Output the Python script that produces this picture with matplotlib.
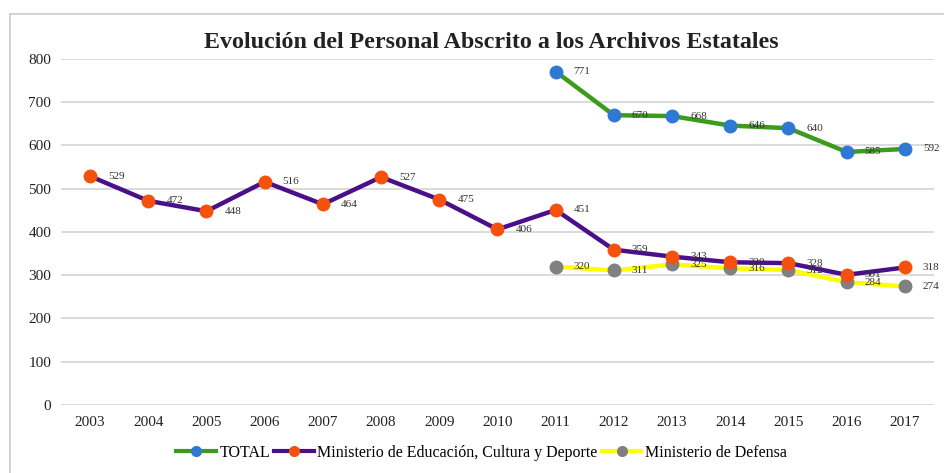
import numpy as np
import matplotlib.pyplot as plt
from matplotlib.lines import Line2D

years = ['2003', '2004', '2005', '2006', '2007', '2008', '2009', '2010',
         '2011', '2012', '2013', '2014', '2015', '2016', '2017']
educacion = [529, 472, 448, 516, 464, 527, 475, 406, 451, 359, 343, 330, 328, 301, 318]
defensa_years = years[8:]
defensa = [320, 311, 325, 316, 312, 284, 274]
total_years = years[8:]
total = [771, 670, 668, 646, 640, 585, 592]
y_ticks = [0, 100, 200, 300, 400, 500, 600, 700, 800]

plt.rcParams['font.family'] = ['Liberation Serif', 'DejaVu Serif']

fig = plt.figure(figsize=(9.44, 4.73), dpi=100)
ax = fig.add_axes([0.0646, 0.1438, 0.9248, 0.7315])

x_all = np.arange(len(years))
x_sub = x_all[8:]

ax.plot(x_sub, total, color='#3c9a1c', lw=3.2, marker='o', ms=9,
        mfc='#2f78d4', mec='#2f78d4', zorder=4)
ax.plot(x_all, educacion, color='#4a108a', lw=3.2, marker='o', ms=9,
        mfc='#f4520c', mec='#f4520c', zorder=3)
ax.plot(x_sub, defensa, color='#ffff00', lw=3.2, marker='o', ms=9,
        mfc='#808080', mec='#808080', zorder=2)

for xs, vals in [(x_sub, total), (x_all, educacion), (x_sub, defensa)]:
    for xi, v in zip(xs, vals):
        ax.annotate(str(v), (xi, v), xytext=(13, 0), textcoords='offset points',
                    ha='left', va='center', fontsize=8, color='#333333', zorder=5)

ax.set_xlim(-0.5, len(years) - 0.5)
ax.set_ylim(0, 800)
ax.set_yticks(y_ticks)
ax.set_xticks(x_all)
ax.set_xticklabels(years)
ax.tick_params(axis='both', length=0, labelsize=11, colors='#222222')
ax.tick_params(axis='y', pad=7)
ax.tick_params(axis='x', pad=8)
ax.grid(axis='y', color='#d4d4d4', lw=1.2)
ax.set_axisbelow(True)
for s in ax.spines.values():
    s.set_visible(False)

fig.text(0.52, 0.91, 'Evolución del Personal Abscrito a los Archivos Estatales',
         ha='center', va='center', fontsize=17.3, fontweight='bold', color='#222222')

handles = [
    Line2D([], [], color='#3c9a1c', lw=3, marker='o', ms=7, mfc='#2f78d4', mec='#2f78d4'),
    Line2D([], [], color='#4a108a', lw=3, marker='o', ms=7, mfc='#f4520c', mec='#f4520c'),
    Line2D([], [], color='#ffff00', lw=3, marker='o', ms=7, mfc='#808080', mec='#808080'),
]
fig.legend(handles, ['TOTAL', 'Ministerio de Educación, Cultura y Deporte', 'Ministerio de Defensa'],
           loc='center', bbox_to_anchor=(0.510, 0.043), ncol=3, frameon=False,
           fontsize=11.5, handlelength=2.5, handletextpad=0.2, columnspacing=0.25)

# chart frame (left and top edges visible)
fig.add_artist(Line2D([10 / 944, 10 / 944], [0, 1 - 14 / 473], color='#cccccc', lw=1.2,
                      transform=fig.transFigure))
fig.add_artist(Line2D([10 / 944, 1], [1 - 14 / 473, 1 - 14 / 473], color='#cccccc', lw=1.2,
                      transform=fig.transFigure))

fig.savefig('out.png', dpi=100)
